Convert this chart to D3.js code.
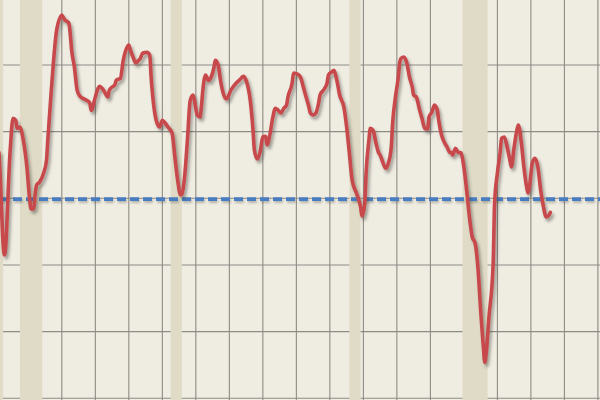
<!DOCTYPE html>
<html><head><meta charset="utf-8">
<script src="https://cdn.jsdelivr.net/npm/d3@7"></script>
<style>html,body{margin:0;padding:0;background:#efece2;}svg{display:block;}</style>
</head><body>
<div id="chart"></div>
<script>
const months = ["1980-04","1980-05","1980-06","1980-07","1980-08","1980-12","1981-02","1981-04","1981-05","1981-07","1981-08","1981-09","1981-12",
"1982-02","1982-03","1982-05","1982-06","1982-07","1982-09","1982-12","1983-02","1983-03","1983-05","1983-07","1983-09","1983-12",
"1984-01","1984-03","1984-06","1984-07","1984-08","1984-10","1984-12","1985-02","1985-04","1985-07","1985-09","1985-10","1986-01","1986-03","1986-04",
"1986-07","1986-10","1986-11","1987-01","1987-03","1987-04","1987-07","1987-09","1987-11","1988-01","1988-02","1988-04","1988-06","1988-08","1988-09","1988-11",
"1989-02","1989-04","1989-05","1989-07","1989-09","1989-11","1990-01","1990-03","1990-05","1990-08","1990-10","1990-12","1991-02","1991-03","1991-05","1991-07","1991-09","1991-11","1991-12",
"1992-02","1992-04","1992-05","1992-06","1992-08","1992-10","1992-12","1993-02","1993-03","1993-05","1993-07","1993-09","1993-11","1994-02","1994-04","1994-06","1994-09","1994-11",
"1995-01","1995-04","1995-06","1995-07","1995-09","1995-11","1996-01","1996-03","1996-04","1996-06","1996-08","1996-10","1996-12","1997-02","1997-04","1997-06","1997-07","1997-10","1997-11",
"1998-02","1998-04","1998-06","1998-08","1998-10","1998-11","1999-01","1999-03","1999-05","1999-06","1999-09","1999-11","1999-12","2000-02","2000-04","2000-06","2000-08","2000-11",
"2001-01","2001-03","2001-05","2001-08","2001-09","2001-11","2001-12","2002-02","2002-03","2002-05","2002-06","2002-08","2002-10","2002-12","2003-01","2003-03","2003-05","2003-07","2003-09","2003-10","2003-12",
"2004-02","2004-03","2004-04","2004-06","2004-08","2004-10","2004-12","2005-01","2005-03","2005-05","2005-07","2005-09","2005-11","2005-12","2006-02","2006-04","2006-06","2006-07","2006-09","2006-11",
"2007-01","2007-03","2007-04","2007-05","2007-07","2007-09","2007-11","2008-01","2008-03","2008-05","2008-07","2008-09","2008-11","2009-01","2009-03","2009-04","2009-05","2009-07","2009-10","2009-11",
"2010-01","2010-03","2010-04","2010-06","2010-08","2010-10","2010-11","2011-01","2011-03","2011-04","2011-06","2011-08","2011-10","2011-11","2011-12","2012-02","2012-04","2012-06","2012-08","2012-10","2012-12","2013-02","2013-03"];
const values = [56.9,52.9,47.5,43.0,41.5,57.2,62.0,61.7,60.5,60.7,60.2,59.2,54.7,
49.7,48.4,48.5,50.8,52.0,52.4,53.8,55.7,58.7,64.7,70.3,74.8,77.2,
77.5,76.8,76.3,74.8,72.3,69.7,66.2,65.3,65.0,64.7,64.3,63.2,65.2,66.5,66.8,
66.2,65.2,66.2,66.7,67.0,67.7,68.0,70.7,72.3,73.0,72.3,71.2,70.3,70.7,70.9,71.8,
71.9,71.5,68.2,63.7,61.4,60.7,61.7,61.3,60.7,59.8,56.2,52.7,50.5,50.6,53.2,58.7,64.7,65.5,64.7,
62.5,62.2,63.7,66.2,68.5,67.7,68.2,69.7,70.7,70.0,67.3,65.5,64.9,66.2,66.8,67.3,67.9,68.3,
67.7,64.7,60.2,57.2,55.9,56.9,59.2,59.3,58.0,59.5,62.0,63.5,63.2,62.8,63.5,64.0,65.2,67.3,68.8,
68.6,68.2,66.7,65.2,63.7,62.8,62.5,62.8,64.3,65.5,66.4,67.3,68.5,68.9,69.2,67.7,65.5,63.7,
60.7,56.8,52.7,50.8,50.2,48.7,47.3,49.3,53.8,58.7,60.5,60.2,58.3,56.8,56.5,55.4,54.5,55.3,57.7,61.3,65.2,
68.2,70.3,71.0,71.2,70.4,68.2,66.7,65.5,65.2,63.5,62.0,60.5,60.4,62.2,62.9,64.0,63.2,61.7,59.5,58.4,
57.7,56.9,56.9,56.5,57.5,56.9,56.8,54.7,51.2,47.2,44.2,43.3,39.7,33.2,27.7,25.4,26.8,32.2,40.3,49.3,
53.8,56.9,59.0,59.2,57.7,55.7,54.7,57.7,60.2,61.0,58.7,54.7,51.7,50.8,51.7,55.3,56.0,54.7,51.2,48.7,47.2,47.5,47.9];
const recessionStarts = ["1980-01","1981-07","1990-07","2001-03","2007-12"];
const recessionEnds   = ["1980-07","1982-11","1991-03","2001-11","2009-06"];
const yTicks = [20,30,40,50,60,70,80];
const xTickYears = d3.range(1980, 2017, 2);
const referenceLevel = 50;

const W = 600, H = 400;
const parse = d3.timeParse("%Y-%m");
const x = d3.scaleTime().domain([new Date(1980,0,1), new Date(2016,0,1)]).range([-5.2, 597.9]);
const y = d3.scaleLinear().domain([20,80]).range([398.3, -1.66]);

const svg = d3.select("#chart").append("svg").attr("width",W).attr("height",H);
const defs = svg.append("defs");
const f = defs.append("filter").attr("id","sh").attr("filterUnits","userSpaceOnUse")
  .attr("x",-20).attr("y",-20).attr("width",W+40).attr("height",H+40);
f.append("feDropShadow").attr("dx",2).attr("dy",3).attr("stdDeviation",1.6).attr("flood-color","#3a3a30").attr("flood-opacity",0.45);
const f2 = defs.append("filter").attr("id","sh2").attr("filterUnits","userSpaceOnUse")
  .attr("x",-20).attr("y",-20).attr("width",W+40).attr("height",H+40);
f2.append("feDropShadow").attr("dx",1).attr("dy",2).attr("stdDeviation",1.2).attr("flood-color","#3a3a30").attr("flood-opacity",0.3);

svg.append("rect").attr("width",W).attr("height",H).attr("fill","#efece2");

// grid
svg.append("g").selectAll("line").data(xTickYears).join("line")
  .attr("x1",d=>x(new Date(d,0,1))).attr("x2",d=>x(new Date(d,0,1)))
  .attr("y1",0).attr("y2",H).attr("stroke","#8e8b85").attr("stroke-width",1.1);
svg.append("g").selectAll("line").data(yTicks).join("line")
  .attr("x1",0).attr("x2",W).attr("y1",d=>y(d)).attr("y2",d=>y(d))
  .attr("stroke","#8e8b85").attr("stroke-width",1.1);

// recessions
svg.append("g").selectAll("rect").data(recessionStarts.map((s,i)=>[parse(s),parse(recessionEnds[i])])).join("rect")
  .attr("x",d=>x(d[0])).attr("width",d=>x(d[1])-x(d[0]))
  .attr("y",0).attr("height",H).attr("fill","#e0dbc7");

// reference line
svg.append("line").attr("x1",0).attr("x2",W).attr("y1",y(referenceLevel)+0.8).attr("y2",y(referenceLevel)+0.8)
  .attr("stroke","#4a7dc2").attr("stroke-width",3.6).attr("stroke-dasharray","9,4").attr("filter","url(#sh2)");

// series
const data = months.map((m,i)=>({date:parse(m), v:values[i]}));
const line = d3.line().x(d=>x(d.date)).y(d=>y(d.v)).curve(d3.curveMonotoneX);
svg.append("path").datum(data).attr("d",line).attr("fill","none")
  .attr("stroke","#c8494b").attr("stroke-width",3.6).attr("stroke-linejoin","round").attr("stroke-linecap","round")
  .attr("filter","url(#sh)");
</script>
</body></html>
